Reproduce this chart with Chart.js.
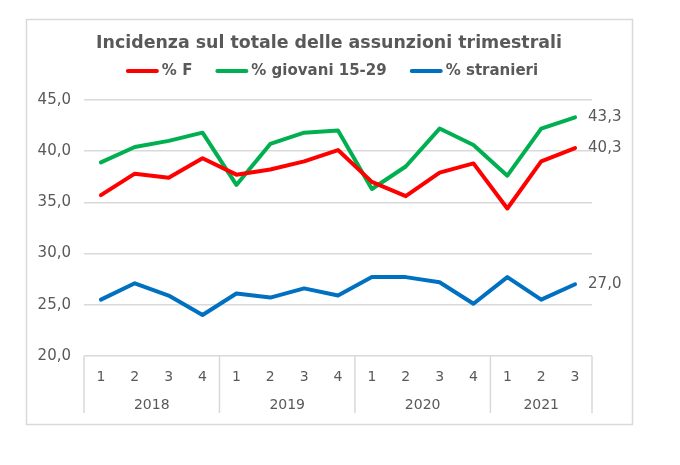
<!DOCTYPE html>
<html>
<head>
<meta charset="utf-8">
<script src="https://cdn.jsdelivr.net/npm/chart.js@4"></script>
<style>
  body { margin: 0; background: #fff; }
  #wrap { width: 680px; height: 465px; }
</style>
</head>
<body>
<div id="wrap"><canvas id="grafica" width="680" height="465"></canvas></div>
<script>
const trimestri = ['1','2','3','4','1','2','3','4','1','2','3','4','1','2','3'];
const anni = ['2018','2019','2020','2021'];
const trimestriPerAnno = [4, 4, 4, 3];

const femmine   = [35.7, 37.8, 37.4, 39.3, 37.7, 38.2, 39.0, 40.1, 37.0, 35.6, 37.9, 38.8, 34.4, 39.0, 40.3];
const giovani   = [38.9, 40.4, 41.0, 41.8, 36.7, 40.7, 41.8, 42.0, 36.3, 38.5, 42.2, 40.6, 37.6, 42.2, 43.3];
const stranieri = [25.5, 27.1, 25.9, 24.0, 26.1, 25.7, 26.6, 25.9, 27.7, 27.7, 27.2, 25.1, 27.7, 25.5, 27.0];

const grigio = '#595959';
const linea = '#d9d9d9';
const virgola = v => v.toFixed(1).replace('.', ',');

// cornice e sfondo
const cornice = {
  id: 'cornice',
  beforeDraw(chart) {
    const ctx = chart.ctx;
    ctx.save();
    ctx.fillStyle = '#fff';
    ctx.fillRect(0, 0, chart.width, chart.height);
    ctx.strokeStyle = linea;
    ctx.lineWidth = 1.5;
    ctx.strokeRect(26.5, 19.5, 606, 405);
    ctx.restore();
  }
};

// legenda con linee spesse, sotto il titolo
const legenda = {
  id: 'legenda',
  afterDraw(chart) {
    const ctx = chart.ctx;
    const lung = 33, spazio = 3, tra = 23, y = 71;
    ctx.save();
    ctx.font = 'bold 15px "DejaVu Sans"';
    ctx.textBaseline = 'middle';
    ctx.textAlign = 'left';
    const ds = chart.data.datasets;
    const larghezze = ds.map(d => lung + spazio + ctx.measureText(d.label).width);
    const totale = larghezze.reduce((a, b) => a + b, 0) + tra * (ds.length - 1);
    let x = 332 - totale / 2;
    ds.forEach((d, i) => {
      ctx.strokeStyle = d.borderColor;
      ctx.lineWidth = 4;
      ctx.lineCap = 'round';
      ctx.beginPath();
      ctx.moveTo(x + 2, y);
      ctx.lineTo(x + lung - 2, y);
      ctx.stroke();
      ctx.fillStyle = grigio;
      ctx.fillText(d.label, x + lung + spazio, y);
      x += larghezze[i] + tra;
    });
    ctx.restore();
  }
};

// separatori e anni sotto l'asse x
const assiAnni = {
  id: 'assiAnni',
  afterDraw(chart) {
    const ctx = chart.ctx;
    const x = chart.scales.x;
    const area = chart.chartArea;
    const passo = x.getPixelForValue(1) - x.getPixelForValue(0);
    ctx.save();
    ctx.strokeStyle = linea;
    ctx.lineWidth = 1.5;
    ctx.fillStyle = grigio;
    ctx.font = '14px "DejaVu Sans"';
    ctx.textAlign = 'center';
    ctx.textBaseline = 'middle';
    let i = 0;
    const bordi = [x.getPixelForValue(0) - passo / 2];
    anni.forEach((anno, k) => {
      const n = trimestriPerAnno[k];
      const inizio = x.getPixelForValue(i) - passo / 2;
      const fine = x.getPixelForValue(i + n - 1) + passo / 2;
      bordi.push(fine);
      ctx.fillText(anno, (inizio + fine) / 2, area.bottom + 49);
      i += n;
    });
    bordi.forEach(b => {
      ctx.beginPath();
      ctx.moveTo(b, area.bottom);
      ctx.lineTo(b, area.bottom + 57);
      ctx.stroke();
    });
    ctx.restore();
  }
};

// valori finali a destra
const etichetteFinali = {
  id: 'etichetteFinali',
  afterDatasetsDraw(chart) {
    const ctx = chart.ctx;
    ctx.save();
    ctx.fillStyle = grigio;
    ctx.font = '15px "DejaVu Sans"';
    ctx.textAlign = 'left';
    ctx.textBaseline = 'middle';
    chart.data.datasets.forEach((ds, i) => {
      const meta = chart.getDatasetMeta(i);
      const p = meta.data[meta.data.length - 1];
      ctx.fillText(virgola(ds.data[ds.data.length - 1]), p.x + 13, p.y);
    });
    ctx.restore();
  }
};

const ctx = document.getElementById('grafica').getContext('2d');
new Chart(ctx, {
  type: 'line',
  data: {
    labels: trimestri,
    datasets: [
      { label: '% F', data: femmine, borderColor: '#ff0000', backgroundColor: '#ff0000' },
      { label: '% giovani 15-29', data: giovani, borderColor: '#00b050', backgroundColor: '#00b050' },
      { label: '% stranieri', data: stranieri, borderColor: '#0070c0', backgroundColor: '#0070c0' }
    ]
  },
  options: {
    responsive: false,
    animation: false,
    devicePixelRatio: 1,
    elements: {
      line: { borderWidth: 4, tension: 0, borderCapStyle: 'round', borderJoinStyle: 'round' },
      point: { radius: 0 }
    },
    layout: { padding: { left: 30, right: 52, top: 0, bottom: 49 } },
    plugins: {
      title: {
        display: true,
        text: 'Incidenza sul totale delle assunzioni trimestrali',
        color: grigio,
        font: { family: 'DejaVu Sans', size: 17.4, weight: 'bold' },
        padding: { top: 33, bottom: 46 }
      },
      legend: { display: false },
      tooltip: { enabled: false }
    },
    scales: {
      x: {
        offset: true,
        grid: { display: false },
        border: { display: false },
        ticks: { color: grigio, font: { family: 'DejaVu Sans', size: 14 }, padding: 5, maxRotation: 0 },
        afterFit: s => { s.height = 60; }
      },
      y: {
        min: 20,
        max: 45,
        grid: { color: linea, lineWidth: 1.5, drawTicks: false },
        border: { display: false },
        ticks: {
          stepSize: 5,
          color: grigio,
          font: { family: 'DejaVu Sans', size: 15 },
          padding: 13,
          callback: v => virgola(v)
        },
        afterFit: s => { s.width = 54; }
      },
      // spazio a destra per le etichette finali
      destra: {
        position: 'right',
        grid: { display: false },
        border: { display: false },
        ticks: { display: false },
        afterFit: s => { s.width = 36; }
      }
    }
  },
  plugins: [cornice, legenda, assiAnni, etichetteFinali]
});
</script>
</body>
</html>
